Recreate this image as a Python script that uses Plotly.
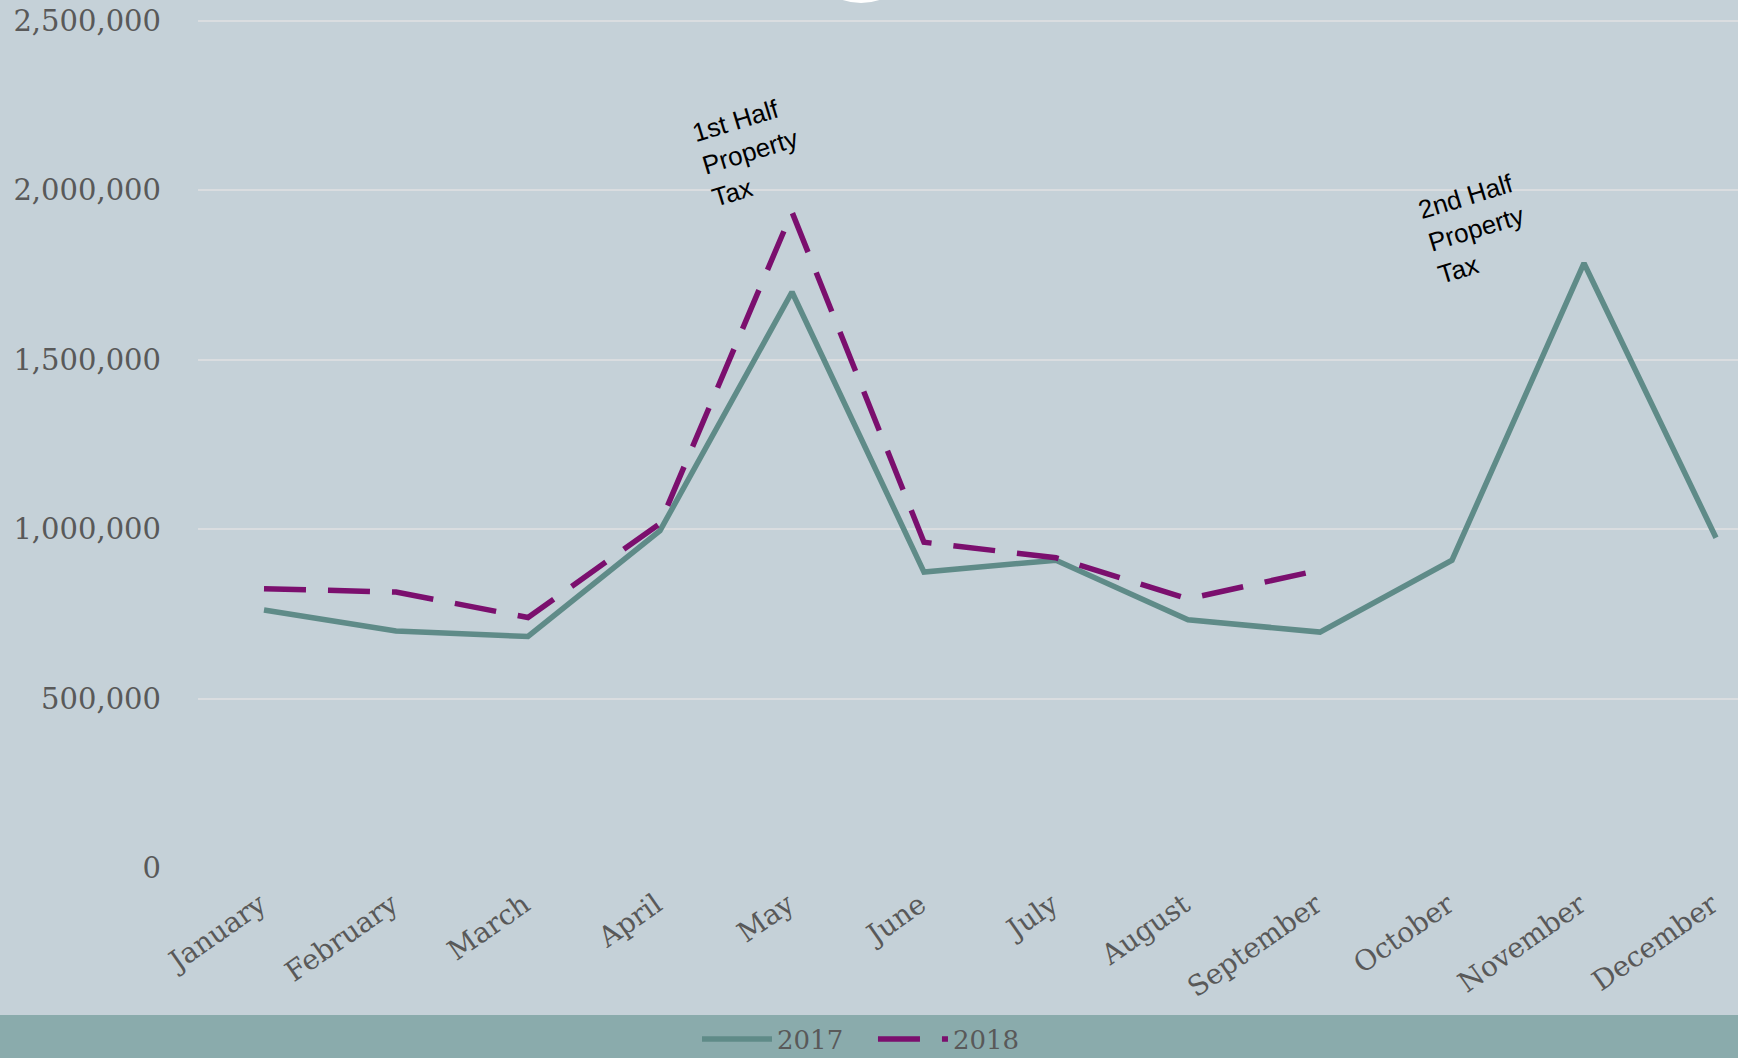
import plotly.graph_objects as go

months = ["January", "February", "March", "April", "May", "June", "July",
          "August", "September", "October", "November", "December"]
v2017 = [761000, 699000, 683000, 995000, 1699000, 873000, 908000,
         732000, 696000, 908000, 1784000, 974000]
v2018 = [824000, 814000, 739000, 1016000, 1935000, 961000, 915000,
         794000, 879000]
y_ticks = [0, 500000, 1000000, 1500000, 2000000, 2500000]
notes = ["1st Half<br>Property<br>Tax", "2nd Half<br>Property<br>Tax"]
note_x = [3.68, 9.18]
note_y = [2112000, 1885000]

W, H = 1738, 1058
ML, MB = 198, 190
PW, PH = W - ML, H - MB
SERIF = "DejaVu Serif"
GREY = "#595959"
BG = "#C5D1D8"
TEAL = "#5F8B88"
PURPLE = "#7B0F6E"

fig = go.Figure()
fig.add_trace(go.Scatter(x=months, y=v2017, mode="lines", name="2017\u00a0\u00a0\u00a0",
                         line=dict(color=TEAL, width=5.5)))
fig.add_trace(go.Scatter(x=months[:len(v2018)], y=v2018, mode="lines",
                         name="2018",
                         line=dict(color=PURPLE, width=5.5, dash="42px,22px")))

for t, x, y in zip(notes, note_x, note_y):
    fig.add_annotation(x=x, y=y, xref="x", yref="y", text=t, showarrow=False,
                       textangle=-17, align="left", xanchor="center", yanchor="middle",
                       font=dict(family="Liberation Sans", size=26, color="#000000"))

# legend band
fig.add_shape(type="rect", xref="paper", yref="paper", layer="below",
              x0=-ML / PW, x1=1, y0=-(H - PH) / PH - 0.01, y1=(PH - 1015) / PH,
              fillcolor="#8AABAC", line=dict(width=0))
# partial white circle at top
fig.add_shape(type="circle", xref="paper", yref="paper", xsizemode="pixel", ysizemode="pixel",
              xanchor=(861 - ML) / PW, yanchor=1, x0=-58, x1=58, y0=-3, y1=113,
              fillcolor="#FFFFFF", line=dict(width=0))

fig.update_layout(
    width=W, height=H, autosize=False,
    margin=dict(l=ML, r=0, t=0, b=MB, pad=0, autoexpand=False),
    paper_bgcolor=BG, plot_bgcolor=BG,
    font=dict(family=SERIF, color=GREY, size=26),
    showlegend=True,
    legend=dict(orientation="h", x=(861 - ML) / PW, y=(PH - 1039) / PH,
                xanchor="center", yanchor="middle", bgcolor="rgba(0,0,0,0)",
                font=dict(family=SERIF, size=26, color=GREY), itemwidth=70,
                tracegroupgap=0),
    xaxis=dict(range=[-0.5, (W - 264) / 132], showgrid=False, zeroline=False,
               showline=False, tickangle=-35, ticks="", automargin=False,
               tickfont=dict(family=SERIF, size=28, color=GREY),
               ticklabelshift=-4, ticklabelstandoff=14),
    yaxis=dict(range=[0, 2500000 + 20.5 / 169.5 * 500000], tickvals=y_ticks,
               tickformat=",d", showgrid=True, gridcolor="#DADDE0", gridwidth=2,
               zeroline=False, showline=False, ticks="", automargin=False,
               tickfont=dict(family=SERIF, size=29, color=GREY),
               ticklabelstandoff=36),
)

fig.write_html("out.html")
